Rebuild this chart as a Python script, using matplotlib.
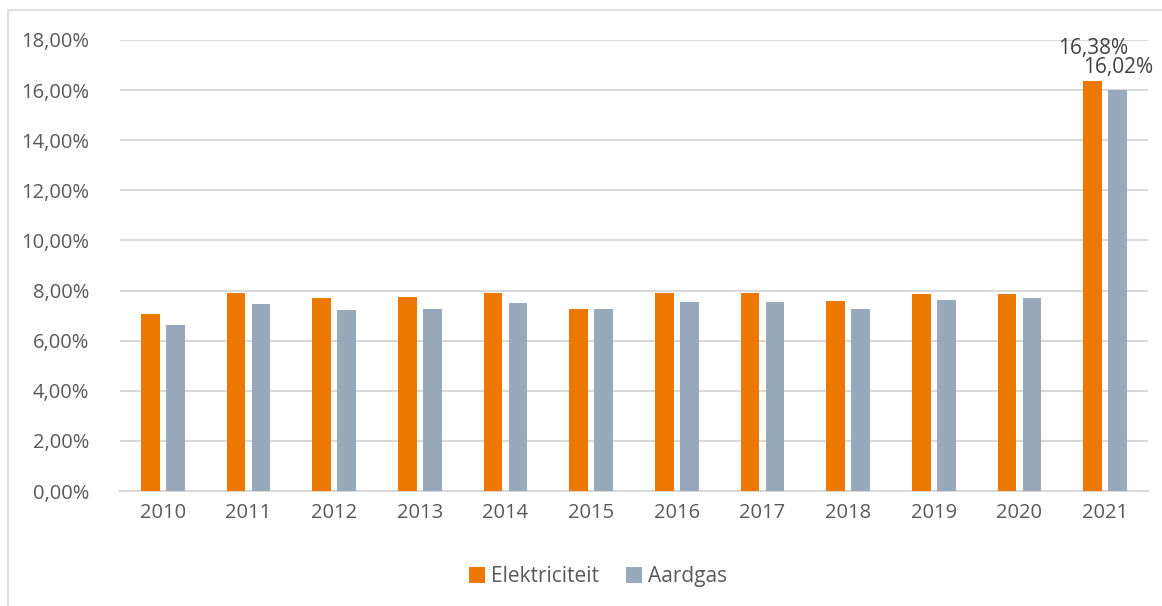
import matplotlib.pyplot as plt
import numpy as np
from matplotlib.patches import Rectangle
from matplotlib.ticker import FuncFormatter

# data
years = ['2010', '2011', '2012', '2013', '2014', '2015',
         '2016', '2017', '2018', '2019', '2020', '2021']
elektriciteit = [7.06, 7.89, 7.69, 7.73, 7.90, 7.26, 7.90, 7.90, 7.58, 7.86, 7.85, 16.38]
aardgas = [6.62, 7.46, 7.22, 7.26, 7.50, 7.26, 7.53, 7.54, 7.25, 7.62, 7.71, 16.02]

plt.rcParams['font.family'] = ['Open Sans', 'DejaVu Sans']

fig = plt.figure(figsize=(11.62, 6.06), dpi=100)
fig.patches.append(Rectangle((8 / 1162, -0.01), 1.5, 1 - 10 / 606 + 0.01,
                             transform=fig.transFigure, fill=False,
                             edgecolor='#d9d9d9', linewidth=1.2))
ax = fig.add_axes([120 / 1162, 1 - 491 / 606, 1028 / 1162, 451 / 606])

x = np.arange(len(years))
w = 0.22
off = 0.146
b1 = ax.bar(x - off, elektriciteit, w, color='#ED7800', label='Elektriciteit', zorder=3)
b2 = ax.bar(x + off, aardgas, w, color='#97A9BA', label='Aardgas', zorder=3)

# labels only for the last year
ax.text(x[-1] - off, elektriciteit[-1] + 0.85, '16,38%', ha='center', va='bottom',
        fontsize=15, color='#404040')
ax.text(x[-1] + off, aardgas[-1] + 0.45, '16,02%', ha='center', va='bottom',
        fontsize=15, color='#404040')

ax.set_xlim(-0.5, len(years) - 0.5)
ax.set_ylim(0, 18)
ax.set_yticks(np.arange(0, 18.1, 2))
ax.yaxis.set_major_formatter(FuncFormatter(lambda v, p: f'{v:.2f}%'.replace('.', ',')))
ax.set_xticks(x)
ax.set_xticklabels(years)
ax.tick_params(axis='both', length=0, labelsize=14.5, labelcolor='#595959')
ax.tick_params(axis='y', pad=22)
ax.tick_params(axis='x', pad=9)
ax.grid(axis='y', color='#d9d9d9', linewidth=1.5, zorder=0)
for s in ['top', 'right', 'left']:
    ax.spines[s].set_visible(False)
ax.spines['bottom'].set_color('#d9d9d9')
ax.spines['bottom'].set_linewidth(1.5)

leg = ax.legend(loc='center', bbox_to_anchor=(0.465, -0.19), ncol=2, frameon=False,
                fontsize=15, handlelength=0.75, handleheight=0.75, handletextpad=0.3,
                columnspacing=1.3)
for t in leg.get_texts():
    t.set_color('#595959')

fig.savefig('out.png', dpi=100)
